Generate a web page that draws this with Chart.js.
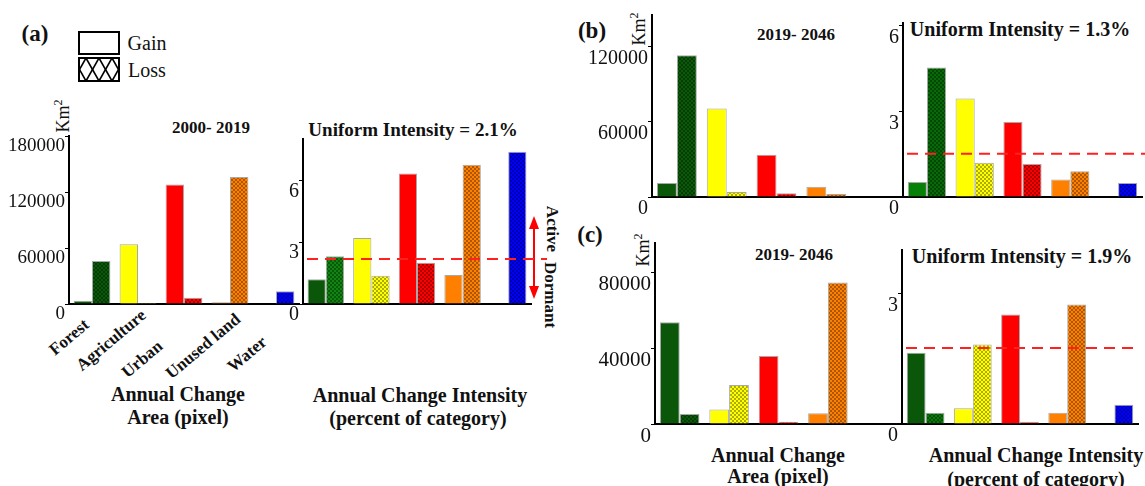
<!DOCTYPE html>
<html>
<head>
<meta charset="utf-8">
<script src="https://cdn.jsdelivr.net/npm/chart.js@4.4.1/dist/chart.umd.min.js"></script>
<style>
  html, body { margin:0; padding:0; background:#fff; }
  body { width:1145px; height:486px; position:relative; overflow:hidden; font-family:'Liberation Serif','Times New Roman',serif; color:#111; }
  canvas { position:absolute; }
  .t { position:absolute; white-space:nowrap; line-height:1; transform:translate(-50%,-50%); }
  .b { font-weight:bold; }
  .r90 { transform:translate(-50%,-50%) rotate(-90deg); }
  .rcw { transform:translate(-50%,-50%) rotate(90deg); }
  .cat { transform:translate(-50%,-50%) rotate(-40deg); font-weight:bold; font-size:17px; }
  svg { position:absolute; left:0; top:0; }
</style>
</head>
<body>

<!-- Panel labels, titles and axis titles -->
<div class="t b" style="left:35px;top:33px;font-size:23px;">(a)</div>
<div class="t" style="left:147px;top:43px;font-size:20px;">Gain</div>
<div class="t" style="left:147px;top:70px;font-size:20px;">Loss</div>
<div class="t r90" style="left:62px;top:116px;font-size:18px;">Km<sup style="font-size:12px">2</sup></div>
<div class="t b" style="left:211px;top:127px;font-size:17px;">2000- 2019</div>
<div class="t b" style="left:413px;top:129px;font-size:19px;">Uniform Intensity = 2.1%</div>

<div class="t cat" style="left:69px;top:337px;">Forest</div>
<div class="t cat" style="left:111px;top:340px;">Agriculture</div>
<div class="t cat" style="left:142px;top:359px;">Urban</div>
<div class="t cat" style="left:203px;top:346px;">Unused land</div>
<div class="t cat" style="left:247px;top:354px;">Water</div>

<div class="t b" style="left:178px;top:394px;font-size:20px;">Annual Change</div>
<div class="t b" style="left:178px;top:417px;font-size:20px;">Area (pixel)</div>
<div class="t b" style="left:420px;top:395px;font-size:20px;">Annual Change Intensity</div>
<div class="t b" style="left:418px;top:418px;font-size:20px;">(percent of category)</div>

<div class="t b rcw" style="left:552px;top:229px;font-size:17px;">Active</div>
<div class="t b rcw" style="left:550px;top:295px;font-size:17px;">Dormant</div>

<div class="t b" style="left:592px;top:30px;font-size:23px;">(b)</div>
<div class="t r90" style="left:638px;top:29px;font-size:18px;">Km<sup style="font-size:12px">2</sup></div>
<div class="t b" style="left:796px;top:34px;font-size:17px;">2019- 2046</div>
<div class="t b" style="left:1020px;top:29px;font-size:20px;">Uniform Intensity = 1.3%</div>

<div class="t b" style="left:590px;top:234px;font-size:23px;">(c)</div>
<div class="t r90" style="left:642px;top:250px;font-size:18px;">Km<sup style="font-size:12px">2</sup></div>
<div class="t b" style="left:794px;top:254px;font-size:17px;">2019- 2046</div>
<div class="t b" style="left:1022px;top:256px;font-size:20px;">Uniform Intensity = 1.9%</div>
<div class="t b" style="left:778px;top:455px;font-size:20px;">Annual Change</div>
<div class="t b" style="left:778px;top:476px;font-size:20px;">Area (pixel)</div>
<div class="t b" style="left:1036px;top:455px;font-size:20px;">Annual Change Intensity</div>
<div class="t b" style="left:1036px;top:479px;font-size:20px;">(percent of category)</div>

<!-- Legend boxes and Active/Dormant arrow -->
<svg width="1145" height="486">
  <defs><clipPath id="lc"><rect x="79" y="58" width="40" height="23"/></clipPath></defs>
  <rect x="79" y="32" width="40" height="22" fill="#fff" stroke="#000" stroke-width="2"/>
  <g clip-path="url(#lc)" stroke="#000" stroke-width="1.6">
    <line x1="73" y1="58" x2="86" y2="81"/><line x1="86" y1="58" x2="99" y2="81"/>
    <line x1="99" y1="58" x2="112" y2="81"/><line x1="112" y1="58" x2="125" y2="81"/>
    <line x1="99" y1="58" x2="86" y2="81"/><line x1="112" y1="58" x2="99" y2="81"/>
    <line x1="125" y1="58" x2="112" y2="81"/><line x1="86" y1="58" x2="73" y2="81"/>
  </g>
  <rect x="79" y="58" width="40" height="23" fill="none" stroke="#000" stroke-width="2"/>
  <line x1="534" y1="226" x2="534" y2="290" stroke="#ff0000" stroke-width="2"/>
  <polygon points="534,216 529,229 539,229" fill="#ff0000"/>
  <polygon points="534,299 529,286 539,286" fill="#ff0000"/>
</svg>

<canvas id="a1" width="303" height="218" style="left:0px;top:116px;"></canvas>
<canvas id="a2" width="278" height="215" style="left:273px;top:119px;"></canvas>
<canvas id="b1" width="323" height="236" style="left:580px;top:-9px;"></canvas>
<canvas id="b2" width="273" height="228" style="left:873px;top:-1px;"></canvas>
<canvas id="c1" width="321" height="235" style="left:583px;top:219px;"></canvas>
<canvas id="c2" width="272" height="228" style="left:872px;top:226px;"></canvas>

<script>
// ---------------- DATA ----------------
const categories = ['Forest', 'Agriculture', 'Urban', 'Unused land', 'Water'];

// (a) 2000-2019
const aAreaGain = [3500, 64000, 128000, 1800, 0];
const aAreaLoss = [46000, 1000, 6700, 136000, 13600];
const aIntGain  = [1.2, 3.2, 6.33, 1.41, 0];
const aIntLoss  = [2.31, 1.37, 2.0, 6.75, 7.38];
const aUniform  = 2.18;
const aAreaTicks = [0, 60000, 120000, 180000];
const aIntTicks  = [0, 3, 6];

// (b) 2019-2046
const bAreaGain = [11200, 70600, 33600, 8200, 0];
const bAreaLoss = [113000, 4000, 2900, 2400, 400];
const bIntGain  = [0.53, 3.45, 2.63, 0.61, 0];
const bIntLoss  = [4.54, 1.2, 1.16, 0.9, 0.49];
const bUniform  = 1.52;
const bAreaTicks = [0, 60000, 120000];
const bIntTicks  = [0, 3, 6];

// (c) 2019-2046
const cAreaGain = [53700, 7600, 35900, 5650, 0];
const cAreaLoss = [5300, 20600, 1200, 74700, 400];
const cIntGain  = [1.64, 0.36, 2.52, 0.26, 0];
const cIntLoss  = [0.26, 1.83, 0.05, 2.75, 0.44];
const cUniform  = 1.75;
const cAreaTicks = [0, 40000, 80000];
const cIntTicks  = [0, 3];

// ---------------- STYLE ----------------
const baseColors = ['#0b5c0b', '#ffff00', '#ff0000', '#ff8000', '#0000ff'];

function hatch(ctx, color) {
  const c = document.createElement('canvas');
  c.width = 4; c.height = 4;
  const g = c.getContext('2d');
  g.fillStyle = color; g.fillRect(0, 0, 4, 4);
  g.strokeStyle = 'rgba(0,0,0,0.32)'; g.lineWidth = 1;
  g.beginPath(); g.moveTo(0, 0); g.lineTo(4, 4); g.moveTo(4, 0); g.lineTo(0, 4); g.stroke();
  return ctx.createPattern(c, 'repeat');
}

const uniformLine = {
  id: 'uniformLine',
  afterDatasetsDraw(chart, args, opts) {
    if (opts.value === undefined || opts.value === null) return;
    const y = chart.scales.y.getPixelForValue(opts.value);
    const a = chart.chartArea;
    const ctx = chart.ctx;
    ctx.save();
    ctx.strokeStyle = '#ff2020';
    ctx.lineWidth = 2;
    ctx.setLineDash([11, 7]);
    ctx.beginPath();
    ctx.moveTo(a.left + opts.start, y);
    ctx.lineTo(a.right + opts.extend, y);
    ctx.stroke();
    ctx.restore();
  }
};

function makeChart(id, gain, loss, tickValues, o) {
  const cv = document.getElementById(id);
  const ctx = cv.getContext('2d');
  const gainColors = baseColors.slice();
  const lossColors = baseColors.slice();
  if (o.forestGain) gainColors[0] = o.forestGain;
  if (o.forestLoss) lossColors[0] = o.forestLoss;
  const lossPatterns = lossColors.map(c => hatch(ctx, c));
  return new Chart(ctx, {
    type: 'bar',
    data: {
      labels: categories,
      datasets: [
        { label: 'Gain', data: gain, backgroundColor: gainColors, borderColor: '#a8a8a8', borderWidth: 1,
          categoryPercentage: 0.8, barPercentage: 1.0 },
        { label: 'Loss', data: loss, backgroundColor: lossPatterns, borderColor: '#a8a8a8', borderWidth: 1,
          categoryPercentage: 0.8, barPercentage: 1.0 }
      ]
    },
    options: {
      responsive: false,
      animation: false,
      layout: { padding: { top: o.padTop, right: o.padRight, left: 0, bottom: 0 } },
      plugins: {
        legend: { display: false },
        tooltip: { enabled: false },
        uniformLine: { value: o.uniform, start: o.lineStart || 4, extend: o.lineExtend || 0 }
      },
      scales: {
        x: {
          grid: { display: false },
          ticks: { display: false },
          border: { display: true, color: '#000', width: 2 },
          afterFit: s => { s.height = 30; }
        },
        y: {
          min: 0, max: o.max,
          afterBuildTicks: s => { s.ticks = tickValues.map(v => ({ value: v })); },
          ticks: {
            labelOffset: o.labelOffset, padding: 0,
            color: '#111', font: { family: 'Liberation Serif', size: o.font },
            callback: v => String(v)
          },
          grid: { display: true, drawOnChartArea: false, drawTicks: true, tickLength: 4, color: '#000' },
          border: { display: true, color: '#000', width: 2 },
          afterFit: s => { s.width = o.yw; }
        }
      }
    },
    plugins: [uniformLine]
  });
}

makeChart('a1', aAreaGain, aAreaLoss, aAreaTicks, { max: 180000, font: 19, labelOffset: 10, yw: 69, padTop: 20, padRight: 4,
  forestGain: '#0a570a', forestLoss: '#0a5a0a' });
makeChart('a2', aIntGain, aIntLoss, aIntTicks, { max: 8, font: 20, labelOffset: 11, yw: 30, padTop: 20, padRight: 20,
  uniform: aUniform, lineStart: 4, lineExtend: 16, forestGain: '#0a570a', forestLoss: '#118511' });
makeChart('b1', bAreaGain, bAreaLoss, bAreaTicks, { max: 145000, font: 20, labelOffset: 12, yw: 72, padTop: 24, padRight: 2,
  forestGain: '#0a570a', forestLoss: '#0a5a0a' });
makeChart('b2', bIntGain, bIntLoss, bIntTicks, { max: 6.1, font: 20, labelOffset: 12, yw: 30, padTop: 24, padRight: 4,
  uniform: bUniform, lineStart: 4, lineExtend: 3, forestGain: '#078007', forestLoss: '#086a08' });
makeChart('c1', cAreaGain, cAreaLoss, cAreaTicks, { max: 95500, font: 21, labelOffset: 12, yw: 72, padTop: 24, padRight: 2,
  forestGain: '#0a570a', forestLoss: '#0a5a0a' });
makeChart('c2', cIntGain, cIntLoss, cIntTicks, { max: 4, font: 20, labelOffset: 12, yw: 30, padTop: 24, padRight: 6,
  uniform: cUniform, lineStart: 4, lineExtend: -1, forestGain: '#0a570a', forestLoss: '#0a780a' });
</script>
</body>
</html>
